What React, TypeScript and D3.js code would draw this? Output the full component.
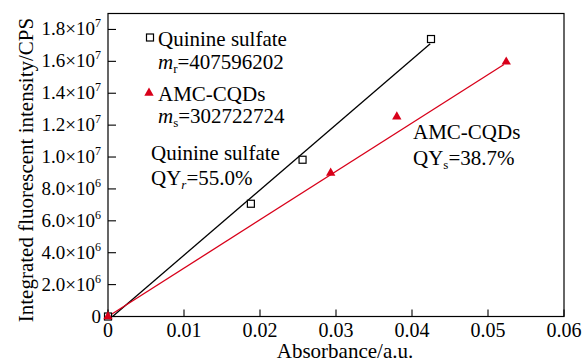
import React from "react";
import * as d3 from "d3";

// measured points (absorbance, integrated intensity)
const quinineX = [0, 0.0188, 0.0256, 0.0425];
const quinineY = [0, 7.07e6, 9.83e6, 1.74e7];
const amcX = [0, 0.0293, 0.038, 0.0524];
const amcY = [0, 9.0e6, 1.253e7, 1.597e7];

// fitted lines, end points
const quinineFitX = [0.0006, 0.0424];
const quinineFitY = [0, 1.71e7];
const amcFitX = [0, 0.0521];
const amcFitY = [0, 1.58e7];

const xTicks = [0, 0.01, 0.02, 0.03, 0.04, 0.05, 0.06];
const xTickLabels = ["0", "0.01", "0.02", "0.03", "0.04", "0.05", "0.06"];
const yTicks = [0, 2e6, 4e6, 6e6, 8e6, 1e7, 1.2e7, 1.4e7, 1.6e7, 1.8e7];
const yTickMant = ["0", "2.0", "4.0", "6.0", "8.0", "1.0", "1.2", "1.4", "1.6", "1.8"];
const yTickExp = ["", "6", "6", "6", "6", "7", "7", "7", "7", "7"];

const W = 585, H = 360;
const left = 108, right = 564, top = 13.5, bottom = 316.5;
const red = "#d8001a";
const ts = { fontFamily: '"Liberation Serif"' };

const App = () => {
    const x = d3.scaleLinear().domain([0, 0.06]).range([left, right]);
    const y = d3.scaleLinear().domain([0, 1.9e7]).range([bottom, top]);
    const line = d3.line<[number, number]>().x(d => x(d[0])).y(d => y(d[1]));
    const tri = d3.symbol(d3.symbolTriangle, 38)();

    const qFit = quinineFitX.map((v, i) => [v, quinineFitY[i]] as [number, number]);
    const aFit = amcFitX.map((v, i) => [v, amcFitY[i]] as [number, number]);

    return (
        <svg width={W} height={H} style={{ position: "absolute", left: 0, top: 0, background: "#fff" }}>
            <rect x={left} y={top} width={right - left} height={bottom - top} fill="none" stroke="#000" strokeWidth={1.2} />

            {xTicks.map((t, i) => (
                <g key={"x" + i}>
                    <line x1={x(t)} x2={x(t)} y1={bottom} y2={bottom - 7} stroke="#000" strokeWidth={1.1} />
                    <text style={ts} x={x(t)} y={337} fontSize={20} textAnchor="middle">{xTickLabels[i]}</text>
                </g>
            ))}
            {yTicks.map((t, i) => (
                <g key={"y" + i}>
                    <line x1={left} x2={left + 8} y1={y(t)} y2={y(t)} stroke="#000" strokeWidth={1.1} />
                    <text style={ts} x={101} y={y(t) + 6} fontSize={19} textAnchor="end">
                        {yTickExp[i] ? yTickMant[i] + "×10" : yTickMant[i]}
                        {yTickExp[i] && <tspan fontSize={12} dy={-8}>{yTickExp[i]}</tspan>}
                    </text>
                </g>
            ))}

            <text style={ts} x={345} y={358} fontSize={21} textAnchor="middle">Absorbance/a.u.</text>
            <text style={ts} transform="translate(33 170) rotate(-90)" fontSize={21} textAnchor="middle">
                Integrated fluorescent intensity/CPS
            </text>

            <path d={line(qFit) || ""} fill="none" stroke="#000" strokeWidth={1.3} />
            <path d={line(aFit) || ""} fill="none" stroke={red} strokeWidth={1.3} />

            {quinineX.map((v, i) => (
                <rect key={"q" + i} x={x(v) - 3.5} y={y(quinineY[i]) - 3.5} width={7} height={7}
                    fill="#fff" stroke="#000" strokeWidth={1.2} />
            ))}
            {amcX.map((v, i) => (
                <path key={"a" + i} d={tri || ""} transform={`translate(${x(v)} ${y(amcY[i])})`} fill={red} />
            ))}

            {/* legend */}
            <rect x={146.5} y={34} width={7} height={7} fill="#fff" stroke="#000" strokeWidth={1.2} />
            <text style={ts} x={158} y={46} fontSize={21}>Quinine sulfate</text>
            <text style={ts} x={158} y={69} fontSize={21}>
                <tspan fontStyle="italic">m</tspan>
                <tspan fontSize={13} dy={4}>r</tspan>
                <tspan dy={-4}>=407596202</tspan>
            </text>
            <path d={tri || ""} transform="translate(149 93)" fill={red} />
            <text style={ts} x={158} y={101} fontSize={21}>AMC-CQDs</text>
            <text style={ts} x={158} y={123} fontSize={21}>
                <tspan fontStyle="italic">m</tspan>
                <tspan fontSize={13} dy={4}>s</tspan>
                <tspan dy={-4}>=302722724</tspan>
            </text>

            {/* annotations */}
            <text style={ts} x={151} y={160} fontSize={21}>Quinine sulfate</text>
            <text style={ts} x={151} y={185} fontSize={21}>
                QY
                <tspan fontSize={13} dy={4} fontStyle="italic">r</tspan>
                <tspan dy={-4}>=55.0%</tspan>
            </text>
            <text style={ts} x={413} y={139} fontSize={21}>AMC-CQDs</text>
            <text style={ts} x={413} y={165} fontSize={21}>
                QY
                <tspan fontSize={13} dy={4}>s</tspan>
                <tspan dy={-4}>=38.7%</tspan>
            </text>
        </svg>
    );
};

export default App;
